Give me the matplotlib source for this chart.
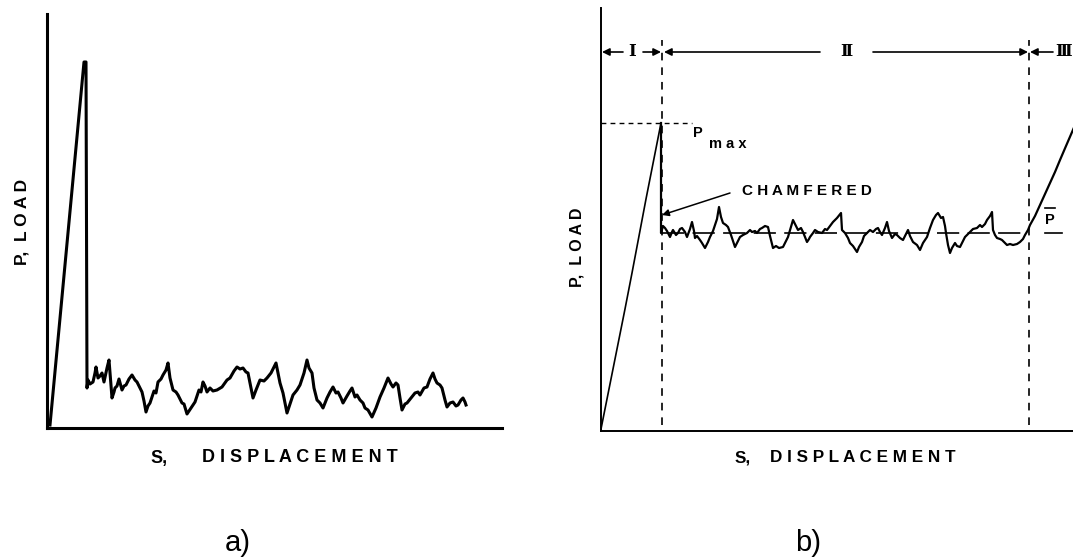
import matplotlib
matplotlib.use("Agg")
import matplotlib.pyplot as plt

plt.rcParams['lines.scale_dashes'] = False
plt.rcParams['font.family'] = ['Liberation Sans', 'DejaVu Sans']

W, H = 1073, 560

# ---- panel a) : load vs displacement (arbitrary units read from the picture)
a_disp = [3, 37, 39, 40, 41, 43, 46, 48, 49, 51, 53, 55, 57, 60, 62, 65, 67, 68, 70, 72,
          75, 77, 79, 82, 85, 88, 90, 93, 95, 97, 99, 101, 103, 107, 109, 111, 114, 116,
          119, 121, 123, 126, 129, 131, 135, 137, 140, 144, 148, 152, 154, 156, 158, 160,
          163, 166, 170, 175, 180, 183, 187, 190, 193, 196, 199, 201, 204, 206, 209, 213,
          217, 220, 224, 229, 231, 233, 236, 240, 243, 246, 250, 253, 257, 260, 262, 265,
          267, 270, 273, 276, 280, 283, 286, 289, 291, 294, 296, 300, 303, 305, 308, 310,
          313, 316, 318, 321, 325, 329, 333, 337, 341, 344, 346, 349, 351, 353, 355, 358,
          360, 364, 368, 371, 373, 377, 380, 383, 386, 388, 390, 393, 395, 398, 400, 403,
          406, 409, 411, 414, 416, 418, 419]
a_load = [3, 366, 366, 40, 48, 44, 46, 55, 61, 50, 52, 55, 46, 60, 68, 30, 36, 40, 42, 49,
          38, 42, 43, 49, 53, 48, 46, 40, 36, 27, 16, 22, 25, 37, 35, 46, 49, 53,
          58, 65, 50, 38, 36, 33, 25, 24, 14, 20, 26, 38, 36, 46, 42, 36,
          40, 37, 38, 41, 48, 50, 57, 61, 59, 60, 56, 55, 40, 30, 38, 48,
          47, 50, 55, 65, 55, 45, 35, 15, 24, 33, 38, 43, 55, 68, 60, 55,
          40, 28, 25, 20, 30, 36, 41, 35, 36, 30, 25, 32, 37, 40, 31, 33,
          28, 25, 20, 18, 11, 20, 31, 40, 50, 44, 41, 45, 43, 30, 18, 24,
          25, 30, 35, 36, 33, 40, 41, 49, 55, 49, 45, 43, 40, 28, 21, 25,
          26, 22, 23, 28, 30, 26, 23]

# ---- panel b) : load vs displacement with stages
b_disp = [0, 14, 24, 31, 45, 60, 60,
          62, 64, 66, 69, 71, 72, 75, 77, 79, 81, 84, 86, 89, 91, 93, 94, 96, 99, 101,
          104, 107, 109, 112, 114, 116, 118, 120, 122, 125, 127, 130, 134, 137, 139, 142,
          146, 149, 151, 154, 156, 159, 161, 164, 167, 169, 172, 175, 178, 182, 185, 187,
          190, 192, 195, 197, 200, 202, 204, 206, 208, 209, 212, 214, 217, 221, 224, 226,
          229, 232, 236, 240, 241, 244, 247, 249, 252, 256, 258, 261, 263, 266, 269, 272,
          275, 277, 279, 281, 284, 286, 288, 291, 294, 296, 299, 302, 305, 307, 309, 312,
          316, 319, 322, 326, 329, 332, 335, 337, 340, 342, 344, 345, 347, 349, 351, 354,
          356, 359, 362, 364, 366, 369, 372, 376, 379, 381, 384, 386, 389, 391, 392, 394,
          396, 399, 401, 404, 406, 409, 412, 416, 419, 422, 424, 427, 429, 434, 439, 444,
          449, 454, 459, 465, 472, 484]
b_load = [2, 72, 122, 158, 232, 308, 198,
          205, 203, 200, 194, 199, 201, 196, 198, 202, 203, 199, 194, 202, 209, 200, 193, 195, 191, 188,
          183, 189, 194, 200, 206, 212, 224, 214, 208, 206, 204, 196, 184, 190, 194, 196,
          198, 201, 199, 200, 198, 202, 203, 205, 204, 195, 183, 185, 183, 184, 190, 194,
          204, 211, 205, 201, 203, 199, 194, 189, 192, 194, 198, 201, 199, 198, 202, 201,
          205, 209, 213, 218, 201, 198, 193, 188, 185, 179, 184, 189, 195, 198, 201, 199,
          202, 203, 199, 196, 203, 209, 200, 193, 197, 196, 193, 191, 197, 201, 195, 189,
          186, 181, 188, 194, 203, 211, 216, 218, 213, 214, 205, 198, 186, 178, 183, 188,
          185, 184, 190, 194, 196, 199, 202, 203, 206, 204, 207, 211, 215, 219, 201, 196,
          193, 192, 191, 188, 186, 187, 186, 187, 189, 192, 196, 201, 206, 215, 226, 237,
          248, 259, 271, 285, 301, 331]

P_max = 308
P_bar = 198
stage_bounds = [61, 428]
stage_labels = ['I', 'Ⅱ', 'Ⅲ']


def fig_rect(x0, y_top, x1, y_bot):
    return [x0 / W, 1 - y_bot / H, (x1 - x0) / W, (y_bot - y_top) / H]


fig = plt.figure(figsize=(W / 100, H / 100), dpi=100)

# ---------------- panel a ----------------
axa = fig.add_axes(fig_rect(47, 14, 502, 428))
axa.plot(a_disp, a_load, color='black', lw=2.2, solid_joinstyle='round')
axa.set_xlim(0, 455)
axa.set_ylim(0, 414)
for s in ['top', 'right']:
    axa.spines[s].set_visible(False)
for s in ['left', 'bottom']:
    axa.spines[s].set_linewidth(2.2)
axa.set_xticks([])
axa.set_yticks([])

# ---------------- panel b ----------------
axb = fig.add_axes(fig_rect(601, 8, 1073, 431))
axb.set_xlim(0, 472)
axb.set_ylim(0, 423)
for s in ['top', 'right']:
    axb.spines[s].set_visible(False)
for s in ['left', 'bottom']:
    axb.spines[s].set_linewidth(1.4)
axb.set_xticks([])
axb.set_yticks([])

axb.plot(b_disp[:6], b_load[:6], color='black', lw=1.2)
axb.plot(b_disp[5:], b_load[5:], color='black', lw=1.6, solid_joinstyle='round')

# stage boundaries (vertical dashed)
for xb in stage_bounds:
    axb.plot([xb, xb], [6, 391], color='black', lw=1.2, linestyle=(0, (5.5, 5)))

# P_max dashed
axb.plot([0, 91], [P_max, P_max], color='black', lw=1.0, linestyle=(0, (3.5, 3)))
axb.text(97, P_max - 10, 'P', fontsize=10.5, fontweight='bold', ha='center', va='center')
axb.text(108, P_max - 21, 'm a x', fontsize=10.5, fontweight='bold', ha='left', va='center')

# P_bar dashed
axb.plot([stage_bounds[0], stage_bounds[1]], [P_bar, P_bar], color='black', lw=1.2,
         linestyle=(0, (16, 6)))
axb.plot([444, 461], [P_bar, P_bar], color='black', lw=1.2)
axb.text(449, P_bar + 13, 'P', fontsize=10.5, fontweight='bold', ha='center', va='center')
axb.plot([444, 454], [P_bar + 25, P_bar + 25], color='black', lw=1.2)

# chamfered annotation
axb.annotate('', xy=(61, 216), xytext=(129, 238),
             arrowprops=dict(arrowstyle='-|>', color='black', lw=1.1,
                             mutation_scale=10, shrinkA=0, shrinkB=0))
axb.text(141, 240, 'C H A M F E R E D', fontsize=11, fontweight='bold',
         ha='left', va='center')

# stage arrows
ya = 379
arr = dict(arrowstyle='-|>', color='black', lw=1.2, mutation_scale=11, shrinkA=0, shrinkB=0)
for tail, head in [(22, 1), (42, 60), (219, 63), (272, 427), (452, 429)]:
    axb.annotate('', xy=(head, ya), xytext=(tail, ya), arrowprops=arr)
serif = ['DejaVu Serif', 'DejaVu Sans']
axb.text(31, ya, stage_labels[0], fontsize=12, fontweight='bold', family=serif,
         ha='center', va='center')
axb.text(245, ya, stage_labels[1], fontsize=12, fontweight='bold', family=serif,
         ha='center', va='center')
axb.text(454, ya, stage_labels[2], fontsize=12, fontweight='bold', family=serif,
         ha='left', va='center', clip_on=False)


# ---------------- labels ----------------
def ftxt(x, y, s, **kw):
    fig.text(x / W, 1 - y / H, s, **kw)


ftxt(22, 222, 'P,  L O A D', fontsize=12.5, fontweight='bold', rotation=90,
     ha='center', va='center')
ftxt(577, 247, 'P,  L O A D', fontsize=11.5, fontweight='bold', rotation=90,
     ha='center', va='center')
ftxt(150, 458, 'S,', fontsize=13, fontweight='bold', ha='left', va='center')
ftxt(202, 458, 'D I S P L A C E M E N T', fontsize=13, fontweight='bold',
     ha='left', va='center')
ftxt(735, 458, 'S,', fontsize=12.3, fontweight='bold', ha='left', va='center')
ftxt(770, 458, 'D I S P L A C E M E N T', fontsize=12.3, fontweight='bold',
     ha='left', va='center')
ftxt(238, 543, 'a)', fontsize=21, ha='center', va='center')
ftxt(808, 543, 'b)', fontsize=21, ha='center', va='center')

fig.savefig('out.png', dpi=100)
